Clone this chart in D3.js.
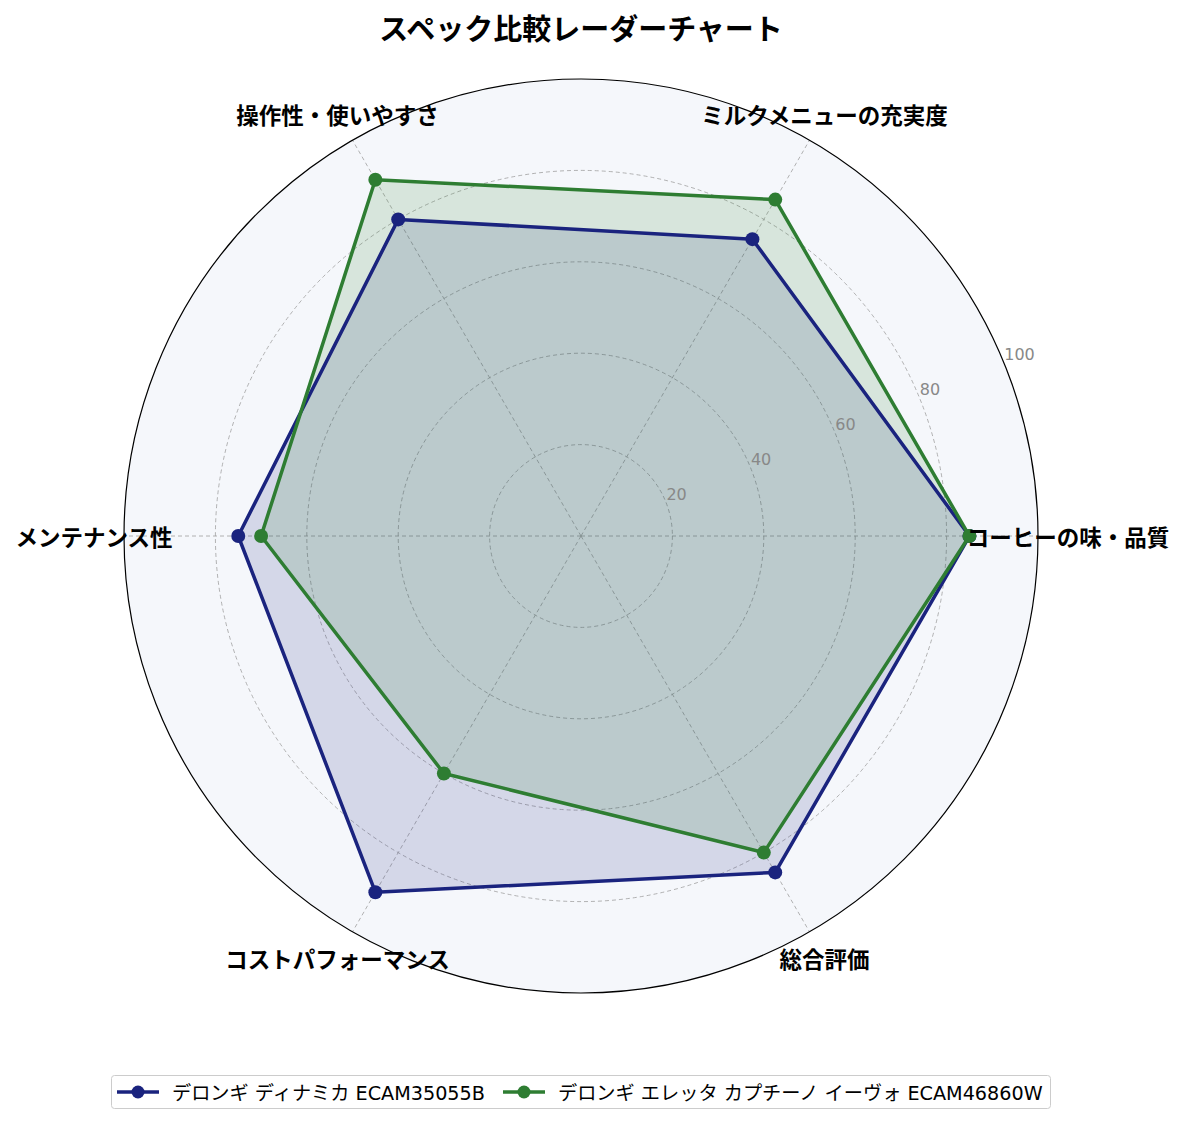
<!DOCTYPE html>
<html>
<head>
<meta charset="utf-8">
<script src="https://cdn.jsdelivr.net/npm/d3@7"></script>
<style>
  body { margin: 0; background: #fff; }
  text { font-family: "Noto Sans CJK JP", "Noto Sans", sans-serif; }
</style>
</head>
<body>
<div id="chart"></div>
<script>
const categories = ['コーヒーの味・品質', 'ミルクメニューの充実度', '操作性・使いやすさ', 'メンテナンス性', 'コストパフォーマンス', '総合評価'];
const seriesNames = ['デロンギ ディナミカ ECAM35055B', 'デロンギ エレッタ カプチーノ イーヴォ ECAM46860W'];
const dinamicaValues = [85, 75, 80, 75, 90, 85];
const elettaValues = [85, 85, 90, 70, 60, 80];
const radialTicks = [20, 40, 60, 80, 100];
const colors = ['#1a237e', '#2e7d32'];

const width = 1185;
const height = 1124;
const cx = 581;
const cy = 536;
const radius = 457;

const svg = d3.select('#chart')
  .append('svg')
  .attr('width', width)
  .attr('height', height);

const r = d3.scaleLinear().domain([0, 100]).range([0, radius]);
// first axis points east, going counter-clockwise
const angle = (i) => (i * 2 * Math.PI) / categories.length;
const px = (i, v) => cx + r(v) * Math.cos(angle(i));
const py = (i, v) => cy - r(v) * Math.sin(angle(i));

const g = svg.append('g');

// plot background
g.append('circle')
  .attr('cx', cx).attr('cy', cy).attr('r', radius)
  .style('fill', '#f5f7fb');

// grid rings
g.selectAll('.ring')
  .data(radialTicks.slice(0, -1))
  .enter()
  .append('circle')
  .attr('class', 'ring')
  .attr('cx', cx).attr('cy', cy)
  .attr('r', (d) => r(d))
  .style('fill', 'none')
  .style('stroke', '#a0a0a0')
  .style('stroke-width', 0.8)
  .style('stroke-dasharray', '4,3');

// spokes
g.selectAll('.spoke')
  .data(categories)
  .enter()
  .append('line')
  .attr('class', 'spoke')
  .attr('x1', cx).attr('y1', cy)
  .attr('x2', (d, i) => px(i, 100))
  .attr('y2', (d, i) => py(i, 100))
  .style('stroke', '#a0a0a0')
  .style('stroke-width', 0.8)
  .style('stroke-dasharray', '4,3');

const series = [dinamicaValues, elettaValues];
const line = d3.line()
  .x((d, i) => px(i, d))
  .y((d, i) => py(i, d))
  .curve(d3.curveLinearClosed);

// fills first, then lines
series.forEach((vals, s) => {
  g.append('path')
    .attr('d', line(vals))
    .style('fill', colors[s])
    .style('fill-opacity', 0.15)
    .style('stroke', 'none');
});

series.forEach((vals, s) => {
  g.append('path')
    .attr('d', line(vals))
    .style('fill', 'none')
    .style('stroke', colors[s])
    .style('stroke-width', 3.5)
    .style('stroke-linejoin', 'round');
  g.selectAll('.pt' + s)
    .data(vals)
    .enter()
    .append('circle')
    .attr('cx', (d, i) => px(i, d))
    .attr('cy', (d, i) => py(i, d))
    .attr('r', 7)
    .style('fill', colors[s]);
});

// outer frame
g.append('circle')
  .attr('cx', cx).attr('cy', cy).attr('r', radius)
  .style('fill', 'none')
  .style('stroke', '#000')
  .style('stroke-width', 1.2);

// radial tick labels at 22.5 deg
const tickAngle = (22.5 * Math.PI) / 180;
g.selectAll('.rtick')
  .data(radialTicks)
  .enter()
  .append('text')
  .attr('x', (d) => cx + r(d) * Math.cos(tickAngle) + 1)
  .attr('y', (d) => cy - r(d) * Math.sin(tickAngle) - 1)
  .text((d) => d)
  .style('font-family', '"DejaVu Sans", sans-serif')
  .style('font-size', '16px')
  .style('fill', '#888');

// category labels
g.selectAll('.cat')
  .data(categories)
  .enter()
  .append('text')
  .attr('x', (d, i) => cx + (radius + 30) * Math.cos(angle(i)))
  .attr('y', (d, i) => cy - (radius + 30) * Math.sin(angle(i)))
  .attr('text-anchor', 'middle')
  .attr('dominant-baseline', 'central')
  .text((d) => d)
  .style('font-size', '22.5px')
  .style('font-weight', 700)
  .style('fill', '#000');

// title
svg.append('text')
  .attr('x', cx)
  .attr('y', 27)
  .attr('text-anchor', 'middle')
  .attr('dominant-baseline', 'central')
  .text('スペック比較レーダーチャート')
  .style('font-size', '29px')
  .style('font-weight', 700);

// legend
const legend = svg.append('g');
legend.append('rect')
  .attr('x', 111.5).attr('y', 1075.5)
  .attr('width', 939).attr('height', 33)
  .attr('rx', 3)
  .style('fill', '#fff')
  .style('stroke', '#ccc')
  .style('stroke-width', 1);

const itemX = [117, 503];
seriesNames.forEach((name, s) => {
  const x0 = itemX[s];
  const y0 = 1092;
  legend.append('line')
    .attr('x1', x0).attr('x2', x0 + 42)
    .attr('y1', y0).attr('y2', y0)
    .style('stroke', colors[s])
    .style('stroke-width', 3.5);
  legend.append('circle')
    .attr('cx', x0 + 21).attr('cy', y0).attr('r', 6.5)
    .style('fill', colors[s]);
  legend.append('text')
    .attr('x', x0 + 55)
    .attr('y', y0 + 1)
    .attr('dominant-baseline', 'central')
    .text(name)
    .style('font-family', '"DejaVu Sans", "Noto Sans CJK JP", sans-serif')
    .style('font-size', '19.2px')
    .style('fill', '#000');
});
</script>
</body>
</html>
